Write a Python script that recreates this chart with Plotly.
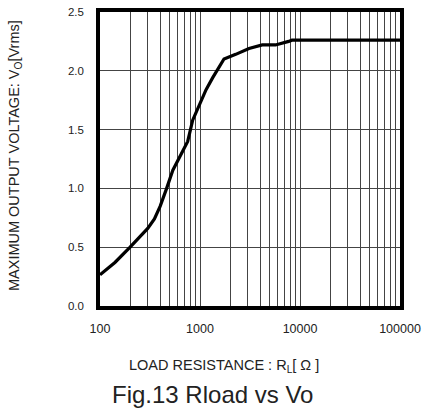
import plotly.graph_objects as go

# Data
r_load = [100, 141, 200, 250, 300, 350, 400, 459, 535, 647, 753, 845, 1000, 1150, 1336, 1553, 1738,
          2275, 3090, 4190, 5690, 7700, 8300, 100000]
v_out = [0.265, 0.37, 0.50, 0.585, 0.66, 0.74, 0.85, 0.99, 1.155, 1.29, 1.40, 1.58, 1.73, 1.84, 1.94,
         2.03, 2.10, 2.14, 2.19, 2.22, 2.22, 2.25, 2.26, 2.26]

x_major = [100, 1000, 10000, 100000]
x_major_text = ["100", "1000", "10000", "100000"]
y_ticks = [0.0, 0.5, 1.0, 1.5, 2.0, 2.5]
y_tick_text = ["0.0", "0.5", "1.0", "1.5", "2.0", "2.5"]

x_tickvals = []
x_ticktext = []
for dec, lab in zip(x_major[:-1], x_major_text[:-1]):
    for m in range(1, 10):
        x_tickvals.append(dec * m)
        x_ticktext.append(lab if m == 1 else "")
x_tickvals.append(x_major[-1])
x_ticktext.append(x_major_text[-1])

fig = go.Figure()
fig.add_trace(go.Scatter(x=r_load, y=v_out, mode="lines",
                         line=dict(color="black", width=3.2),
                         showlegend=False, hoverinfo="skip"))

font = "Arial, Liberation Sans, sans-serif"
fig.update_layout(
    width=427, height=417,
    margin=dict(l=100, r=25, t=6, b=111),
    paper_bgcolor="white", plot_bgcolor="white",
    font=dict(family=font, color="#222", size=11),
    xaxis=dict(type="log", range=[2, 5], tickvals=x_tickvals, ticktext=x_ticktext,
               showgrid=True, gridcolor="#444", gridwidth=1, zeroline=False,
               showline=True, linecolor="black", linewidth=3.5, mirror=True,
               ticks="", ticklabelstandoff=8, tickfont=dict(size=12.5, family=font, color="#222")),
    yaxis=dict(range=[0, 2.5], tickvals=y_ticks, ticktext=y_tick_text,
               showgrid=True, gridcolor="#444", gridwidth=1, zeroline=False,
               showline=True, linecolor="black", linewidth=3.5, mirror=True,
               ticks="", ticklabelstandoff=10, tickfont=dict(size=11.5, family=font, color="#222")),
    annotations=[
        dict(text="MAXIMUM OUTPUT VOLTAGE: V<sub>O</sub>[Vrms]", xref="paper", yref="paper",
             x=-0.2815, y=0.512, textangle=-90, showarrow=False, xanchor="center", yanchor="middle",
             font=dict(size=14.5, family=font, color="#222")),
        dict(text="LOAD RESISTANCE : R<sub>L</sub>[ Ω ]", xref="paper", yref="paper",
             x=0.414, y=-0.204, showarrow=False, xanchor="center", yanchor="middle",
             font=dict(size=14.5, family=font, color="#222")),
        dict(text="Fig.13 Rload vs Vo", xref="paper", yref="paper",
             x=0.374, y=-0.301, showarrow=False, xanchor="center", yanchor="middle",
             font=dict(size=24, family=font, color="#222")),
    ],
)

fig.write_html("out.html", config={"displayModeBar": False},
               post_script="document.body.style.margin='0';")
